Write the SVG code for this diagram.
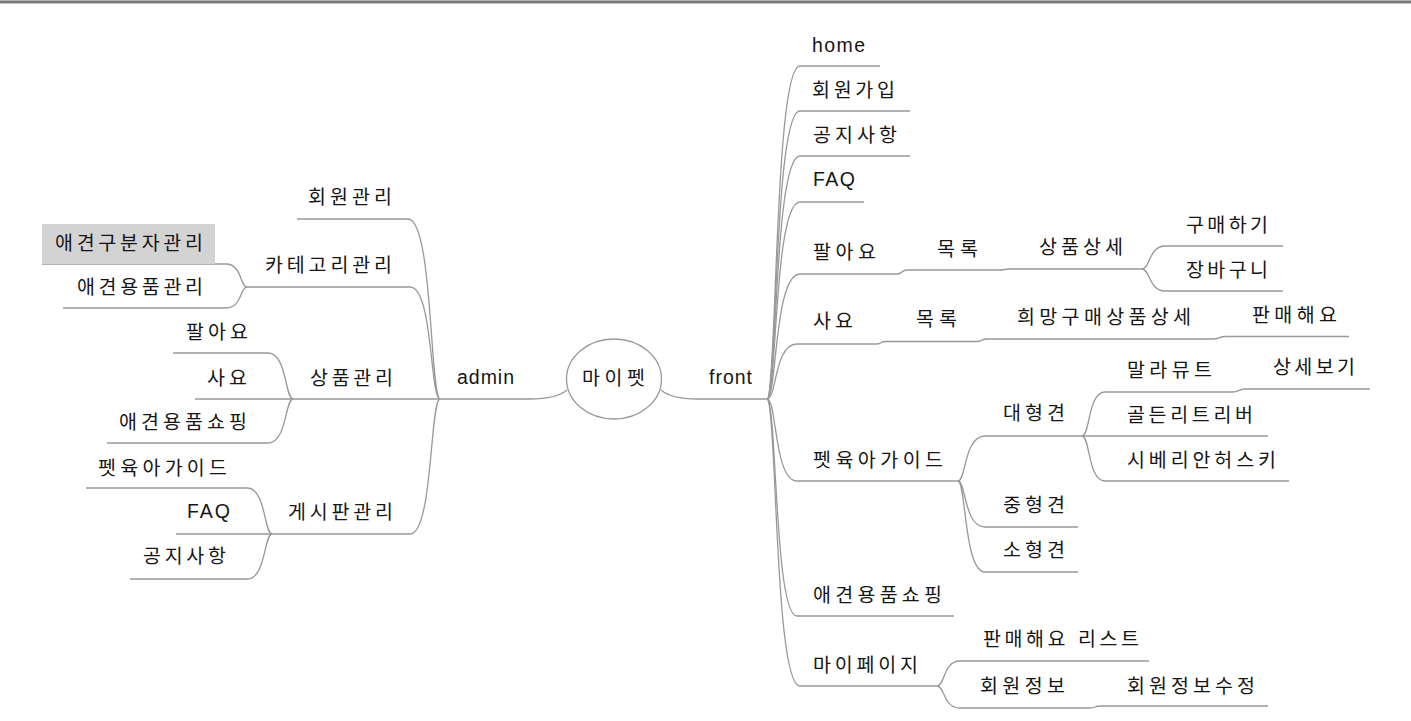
<svg xmlns="http://www.w3.org/2000/svg" width="1411" height="721" viewBox="0 0 1411 721">
<style>
text{font-family:"Liberation Sans","Noto Sans CJK KR",sans-serif;font-size:19.5px;fill:#151515;}
.c path{fill:none;stroke:#999;stroke-width:1.3;}
</style>
<rect x="0" y="0" width="1411" height="721" fill="#fff"/>
<rect x="0" y="0" width="1411" height="1" fill="#b0b0b0"/>
<rect x="0" y="1" width="1411" height="2" fill="#7a7a7a"/>
<rect x="0" y="3" width="1411" height="1" fill="#c4c4c4"/>

<g class="c" id="connectors">
<path d="M440,399 L530,399 C550,399 560,396 567,390"/>
<path d="M661,390 C668,396 678,399 697,399 L767,399"/>
<path d="M440,399 C430,399 433,219 408,219 L297,219"/>
<path d="M440,399 C430,399 433,287 410,287 L247,287"/>
<path d="M440,399 L293,399"/>
<path d="M440,399 C430,399 433,534 410,534 L272,534"/>
<path d="M247,287 C240,287 242,264 226,264 L42,264"/>
<path d="M247,287 C240,287 242,308 226,308 L63,308"/>
<path d="M293,399 C285,399 287,353 268,353 L173,353"/>
<path d="M293,399 L195,399"/>
<path d="M293,399 C285,399 287,443 268,443 L107,443"/>
<path d="M272,534 C264,534 266,488 247,488 L86,488"/>
<path d="M272,534 L176,534"/>
<path d="M272,534 C264,534 266,579 247,579 L130,579"/>
<path d="M767,399 C777,399 774,66 800,66 L880,66"/>
<path d="M767,399 C777,399 774,111 800,111 L910,111"/>
<path d="M767,399 C777,399 774,156 800,156 L910,156"/>
<path d="M767,399 C777,399 774,202 800,202 L864,202"/>
<path d="M767,399 C777,399 774,274 800,274 L897,274"/>
<path d="M767,399 C777,399 774,344 797,344 L877,344"/>
<path d="M767,399 C777,399 774,481 797,481 L958,481"/>
<path d="M767,399 C777,399 774,616 797,616 L954,616"/>
<path d="M767,399 C777,399 774,686 800,686 L937,686"/>
<path d="M897,274 C903,274 901,270 907,270 L1000,270"/>
<path d="M1000,270 C1005,270 1004,269 1009,269 L1142,269"/>
<path d="M1142,269 C1150,269 1149,246 1165,246 L1283,246"/>
<path d="M1142,269 C1150,269 1149,291 1165,291 L1283,291"/>
<path d="M877,344 C882,344 880,341.5 886,341.5 L977,341.5"/>
<path d="M977,341.5 C982,341.5 981,339 987,339 L1213,339"/>
<path d="M1213,339 C1220,339 1218,336.5 1226,336.5 L1349,336.5"/>
<path d="M958,481 C966,481 964,436 985,436 L1082,436"/>
<path d="M958,481 C966,481 964,527 985,527 L1078,527"/>
<path d="M958,481 C966,481 964,572 985,572 L1078,572"/>
<path d="M1082,436 C1090,436 1088,392 1105,392 L1233,392"/>
<path d="M1082,436 L1268,436"/>
<path d="M1082,436 C1090,436 1088,481 1105,481 L1289,481"/>
<path d="M1233,392 C1239,392 1238,389 1245,389 L1370,389"/>
<path d="M937,686 C945,686 943,661 960,661 L1149,661"/>
<path d="M937,686 C945,686 943,708 960,708 L1090,708"/>
<path d="M1090,708 C1096,708 1094,706 1100,706 L1268,706"/>
</g>

<g id="center"><ellipse cx="614" cy="379" rx="47.5" ry="40" fill="#fff" stroke="#999" stroke-width="1.3"/><text x="582" y="385" textLength="63" lengthAdjust="spacing">마이펫</text></g>
<g id="admin"><text x="457" y="384" textLength="57" lengthAdjust="spacing">admin</text></g>
<g id="front"><text x="709" y="384" textLength="43" lengthAdjust="spacing">front</text></g>

<g id="a-member"><text x="308" y="204" textLength="84" lengthAdjust="spacing">회원관리</text></g>
<g id="a-category"><text x="265" y="272" textLength="127" lengthAdjust="spacing">카테고리관리</text></g>
<g id="a-cat-kind"><rect x="42" y="224" width="173" height="40" fill="#d3d3d3"/><text x="55" y="250" textLength="148" lengthAdjust="spacing">애견구분자관리</text></g>
<g id="a-cat-goods"><text x="77" y="294" textLength="126" lengthAdjust="spacing">애견용품관리</text></g>
<g id="a-product"><text x="310" y="385" textLength="83" lengthAdjust="spacing">상품관리</text></g>
<g id="a-sell"><text x="186" y="339" textLength="62" lengthAdjust="spacing">팔아요</text></g>
<g id="a-buy"><text x="207" y="385" textLength="40" lengthAdjust="spacing">사요</text></g>
<g id="a-shop"><text x="119" y="429" textLength="128" lengthAdjust="spacing">애견용품쇼핑</text></g>
<g id="a-board"><text x="288" y="519" textLength="105" lengthAdjust="spacing">게시판관리</text></g>
<g id="a-guide"><text x="98" y="475" textLength="129" lengthAdjust="spacing">펫육아가이드</text></g>
<g id="a-faq"><text x="187" y="518" textLength="43" lengthAdjust="spacing">FAQ</text></g>
<g id="a-notice"><text x="143" y="563" textLength="83" lengthAdjust="spacing">공지사항</text></g>

<g id="f-home"><text x="812" y="52" textLength="53" lengthAdjust="spacing">home</text></g>
<g id="f-join"><text x="812" y="97" textLength="83" lengthAdjust="spacing">회원가입</text></g>
<g id="f-notice"><text x="813" y="142" textLength="84" lengthAdjust="spacing">공지사항</text></g>
<g id="f-faq"><text x="813" y="186" textLength="42" lengthAdjust="spacing">FAQ</text></g>
<g id="f-sell"><text x="813" y="259" textLength="63" lengthAdjust="spacing">팔아요</text></g>
<g id="f-sell-list"><text x="937" y="256" textLength="41" lengthAdjust="spacing">목록</text></g>
<g id="f-sell-detail"><text x="1039" y="254" textLength="84" lengthAdjust="spacing">상품상세</text></g>
<g id="f-purchase"><text x="1186" y="232" textLength="82" lengthAdjust="spacing">구매하기</text></g>
<g id="f-cart"><text x="1186" y="277" textLength="82" lengthAdjust="spacing">장바구니</text></g>
<g id="f-buy"><text x="813" y="328" textLength="40" lengthAdjust="spacing">사요</text></g>
<g id="f-buy-list"><text x="916" y="326" textLength="41" lengthAdjust="spacing">목록</text></g>
<g id="f-buy-detail"><text x="1017" y="324" textLength="174" lengthAdjust="spacing">희망구매상품상세</text></g>
<g id="f-sellit"><text x="1252" y="322" textLength="85" lengthAdjust="spacing">판매해요</text></g>
<g id="f-guide"><text x="813" y="467" textLength="130" lengthAdjust="spacing">펫육아가이드</text></g>
<g id="f-large"><text x="1003" y="420" textLength="62" lengthAdjust="spacing">대형견</text></g>
<g id="f-malamute"><text x="1127" y="377" textLength="85" lengthAdjust="spacing">말라뮤트</text></g>
<g id="f-detail"><text x="1273" y="374" textLength="82" lengthAdjust="spacing">상세보기</text></g>
<g id="f-golden"><text x="1127" y="422" textLength="126" lengthAdjust="spacing">골든리트리버</text></g>
<g id="f-husky"><text x="1127" y="467" textLength="149" lengthAdjust="spacing">시베리안허스키</text></g>
<g id="f-medium"><text x="1003" y="512" textLength="62" lengthAdjust="spacing">중형견</text></g>
<g id="f-small"><text x="1003" y="557" textLength="62" lengthAdjust="spacing">소형견</text></g>
<g id="f-shop"><text x="813" y="602" textLength="129" lengthAdjust="spacing">애견용품쇼핑</text></g>
<g id="f-mypage"><text x="813" y="672" textLength="105" lengthAdjust="spacing">마이페이지</text></g>
<g id="f-selllist"><text x="983" y="646" textLength="156" lengthAdjust="spacing">판매해요 리스트</text></g>
<g id="f-info"><text x="980" y="693" textLength="85" lengthAdjust="spacing">회원정보</text></g>
<g id="f-info-edit"><text x="1127" y="693" textLength="128" lengthAdjust="spacing">회원정보수정</text></g>
</svg>
